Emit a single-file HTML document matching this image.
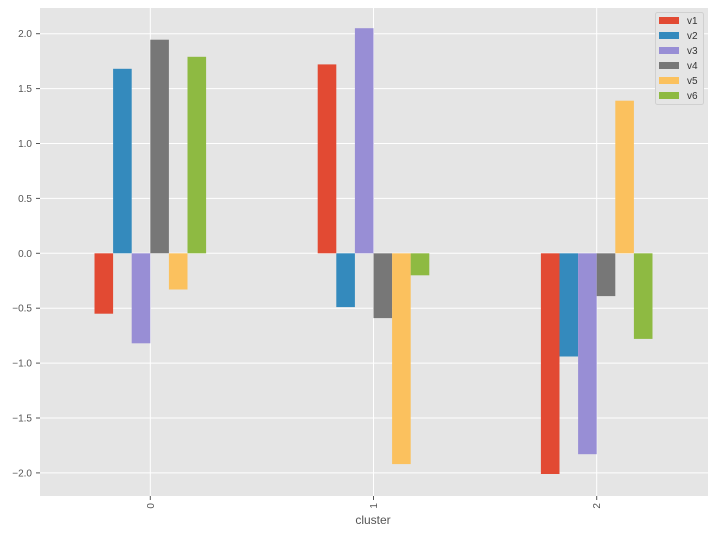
<!DOCTYPE html>
<html><head><meta charset="utf-8"><style>body{margin:0;background:#fff}svg{display:block}</style></head><body>
<svg width="715" height="534" xmlns="http://www.w3.org/2000/svg" font-family="Liberation Sans, DejaVu Sans, sans-serif">
<rect x="40" y="8" width="668" height="488" fill="#e5e5e5"/>
<g stroke="#fff" stroke-width="1">
<line x1="40" x2="708" y1="33.7" y2="33.7"/><line x1="40" x2="708" y1="88.6" y2="88.6"/><line x1="40" x2="708" y1="143.5" y2="143.5"/><line x1="40" x2="708" y1="198.4" y2="198.4"/><line x1="40" x2="708" y1="253.3" y2="253.3"/><line x1="40" x2="708" y1="308.2" y2="308.2"/><line x1="40" x2="708" y1="363.1" y2="363.1"/><line x1="40" x2="708" y1="418" y2="418"/><line x1="40" x2="708" y1="472.9" y2="472.9"/>
<line x1="150.3" x2="150.3" y1="8" y2="496"/><line x1="373.5" x2="373.5" y1="8" y2="496"/><line x1="596.7" x2="596.7" y1="8" y2="496"/>
</g>
<g>
<rect x="94.5" y="253.3" width="18.6" height="60.4" fill="#e24a33"/>
<rect x="113.1" y="68.8" width="18.6" height="184.5" fill="#348abd"/>
<rect x="131.7" y="253.3" width="18.6" height="90" fill="#988ed5"/>
<rect x="150.3" y="39.7" width="18.6" height="213.6" fill="#777777"/>
<rect x="168.9" y="253.3" width="18.6" height="36.2" fill="#fbc15e"/>
<rect x="187.5" y="56.8" width="18.6" height="196.5" fill="#8eba42"/>
<rect x="317.7" y="64.4" width="18.6" height="188.9" fill="#e24a33"/>
<rect x="336.3" y="253.3" width="18.6" height="53.8" fill="#348abd"/>
<rect x="354.9" y="28.2" width="18.6" height="225.1" fill="#988ed5"/>
<rect x="373.5" y="253.3" width="18.6" height="64.8" fill="#777777"/>
<rect x="392.1" y="253.3" width="18.6" height="210.8" fill="#fbc15e"/>
<rect x="410.7" y="253.3" width="18.6" height="22" fill="#8eba42"/>
<rect x="540.9" y="253.3" width="18.6" height="220.7" fill="#e24a33"/>
<rect x="559.5" y="253.3" width="18.6" height="103.2" fill="#348abd"/>
<rect x="578.1" y="253.3" width="18.6" height="200.9" fill="#988ed5"/>
<rect x="596.7" y="253.3" width="18.6" height="42.8" fill="#777777"/>
<rect x="615.3" y="100.7" width="18.6" height="152.6" fill="#fbc15e"/>
<rect x="633.9" y="253.3" width="18.6" height="85.6" fill="#8eba42"/>
</g>
<g stroke="#555" stroke-width="1">
<line x1="36" x2="40" y1="33.7" y2="33.7"/><line x1="36" x2="40" y1="88.6" y2="88.6"/><line x1="36" x2="40" y1="143.5" y2="143.5"/><line x1="36" x2="40" y1="198.4" y2="198.4"/><line x1="36" x2="40" y1="253.3" y2="253.3"/><line x1="36" x2="40" y1="308.2" y2="308.2"/><line x1="36" x2="40" y1="363.1" y2="363.1"/><line x1="36" x2="40" y1="418" y2="418"/><line x1="36" x2="40" y1="472.9" y2="472.9"/>
<line x1="150.3" x2="150.3" y1="496" y2="500"/><line x1="373.5" x2="373.5" y1="496" y2="500"/><line x1="596.7" x2="596.7" y1="496" y2="500"/>
</g>
<g font-size="10" fill="#555" text-anchor="end">
<text x="32" y="37.2">2.0</text><text x="32" y="92.1">1.5</text><text x="32" y="147">1.0</text><text x="32" y="201.9">0.5</text><text x="32" y="256.8">0.0</text><text x="32" y="311.7">−0.5</text><text x="32" y="366.6">−1.0</text><text x="32" y="421.5">−1.5</text><text x="32" y="476.4">−2.0</text>
</g>
<g font-size="10" fill="#555" text-anchor="end">
<text transform="translate(153.8,503) rotate(-90)">0</text>
<text transform="translate(377,503) rotate(-90)">1</text>
<text transform="translate(600.2,503) rotate(-90)">2</text>
</g>
<text x="373" y="524" font-size="12" fill="#555" text-anchor="middle">cluster</text>
<rect x="655.5" y="12.5" width="48" height="92" rx="2" fill="#e5e5e5" stroke="#d0d0d0" stroke-width="1"/>
<g>
<rect x="659" y="17" width="20" height="7" fill="#e24a33"/>
<rect x="659" y="32" width="20" height="7" fill="#348abd"/>
<rect x="659" y="47" width="20" height="7" fill="#988ed5"/>
<rect x="659" y="62" width="20" height="7" fill="#777777"/>
<rect x="659" y="77" width="20" height="7" fill="#fbc15e"/>
<rect x="659" y="92" width="20" height="7" fill="#8eba42"/>
</g>
<g font-size="10" fill="#333">
<text x="687" y="24">v1</text><text x="687" y="39">v2</text><text x="687" y="54">v3</text><text x="687" y="69">v4</text><text x="687" y="84">v5</text><text x="687" y="99">v6</text>
</g>
</svg>
</body></html>
